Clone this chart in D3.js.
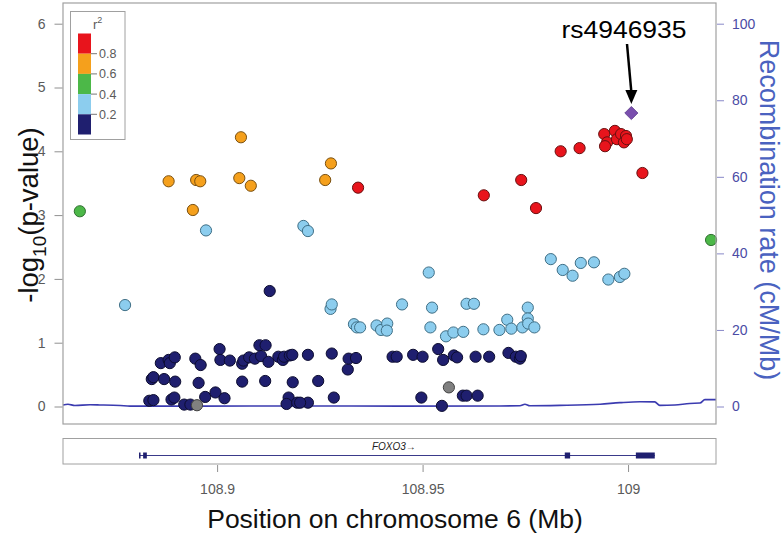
<!DOCTYPE html>
<html><head><meta charset="utf-8">
<script src="https://cdn.jsdelivr.net/npm/d3@7"></script>
<style>body{margin:0;background:#fff}svg{display:block;font-family:"Liberation Sans",Arial,sans-serif}</style>
</head><body><svg id="c" width="784" height="538"></svg>
<script>
// ---- data ----
const r2Breaks = [0.2, 0.4, 0.6, 0.8];
const r2Colors = ["#1f1f6f", "#8ccdee", "#4cb848", "#f5a01c", "#e8141c"];
const xTicks = [108.9, 108.95, 109];
const yTicks = [0, 1, 2, 3, 4, 5, 6];
const recTicks = [0, 20, 40, 60, 80, 100];
// [position (Mb), -log10 p]
const navyPts = [[108.8835,0.09],[108.8845,0.10],[108.8841,0.43],[108.8845,0.46],[108.8863,0.68],[108.8871,0.43],[108.8882,0.73],[108.8885,0.68],[108.8897,0.77],[108.8889,0.11],[108.8896,0.14],[108.8898,0.39],[108.8920,0.03],[108.8935,0.03],[108.8947,0.75],[108.8960,0.65],[108.8955,0.37],[108.8971,0.15],[108.8996,0.22],[108.9018,0.13],[108.9006,0.90],[108.9008,0.73],[108.9031,0.72],[108.9061,0.67],[108.9064,0.72],[108.9061,0.39],[108.9078,0.77],[108.9092,0.75],[108.9103,0.96],[108.9118,0.96],[108.9107,0.79],[108.9125,0.70],[108.9117,0.40],[108.9149,0.78],[108.9160,0.73],[108.9163,0.78],[108.9177,0.80],[108.9183,0.81],[108.9184,0.38],[108.9174,0.14],[108.9169,0.04],[108.9195,0.06],[108.9221,0.81],[108.9221,0.06],[108.9202,0.06],[108.9246,0.40],[108.9279,0.83],[108.9284,0.14],[108.9318,0.58],[108.9320,0.75],[108.9338,0.76],[108.9427,0.78],[108.9437,0.78],[108.9477,0.81],[108.9500,0.78],[108.9497,0.14],[108.9538,0.90],[108.9550,0.73],[108.9547,0.01],[108.9576,0.80],[108.9584,0.77],[108.9598,0.17],[108.9607,0.17],[108.9634,0.17],[108.9629,0.78],[108.9662,0.78],[108.9709,0.84],[108.9727,0.78],[108.9737,0.75],[108.9739,0.79],[108.9128,1.81]];
const greyPts = [[108.8951,0.02],[108.9564,0.30]];
const lightBluePts = [[108.8776,1.59],[108.8973,2.76],[108.9210,2.83],[108.9221,2.75],[108.9276,1.53],[108.9279,1.60],[108.9333,1.29],[108.9340,1.24],[108.9348,1.24],[108.9388,1.27],[108.9399,1.20],[108.9414,1.30],[108.9413,1.19],[108.9450,1.60],[108.9523,1.55],[108.9519,1.24],[108.9515,2.10],[108.9557,1.10],[108.9575,1.16],[108.9599,1.17],[108.9607,1.61],[108.9625,1.61],[108.9648,1.21],[108.9687,1.20],[108.9706,1.36],[108.9716,1.22],[108.9743,1.24],[108.9756,1.55],[108.9756,1.38],[108.9757,1.30],[108.9772,1.24],[108.9812,2.31],[108.9841,2.14],[108.9865,2.05],[108.9885,2.25],[108.9917,2.26],[108.9952,1.99],[108.9980,2.03],[108.9991,2.08]];
const greenPts = [[108.8666,3.06],[109.0202,2.61]];
const orangePts = [[108.9058,4.22],[108.9277,3.81],[108.8882,3.53],[108.8949,3.55],[108.8959,3.53],[108.9054,3.58],[108.9082,3.46],[108.9263,3.55],[108.8941,3.08]];
const redPts = [[108.9343,3.43],[108.9649,3.31],[108.9740,3.55],[108.9776,3.11],[108.9836,4.00],[108.9882,4.05],[109.0035,3.66],[108.9942,4.27],[108.9949,4.14],[108.9944,4.08],[108.9968,4.32],[108.9973,4.19],[108.9983,4.27],[108.9990,4.14],[108.9995,4.24],[108.9997,4.19]];
const leadSnp = {name: "rs4946935", pos: 109.0008, p: 4.60};
// recombination rate [position, cM/Mb]
const recomb = [[108.8625,0.4],[108.8637,0.6],[108.8654,0.25],[108.8691,0.45],[108.8715,0.4],[108.8764,0.25],[108.8788,0.1],[108.8958,0.1],[108.9202,0.15],[108.9445,0.1],[108.9688,0.15],[108.9737,0.2],[108.9749,0.6],[108.9761,0.2],[108.9834,0.3],[108.9932,0.6],[108.9980,1.0],[109.0029,1.25],[109.0065,1.2],[109.0077,0.3],[109.0114,0.4],[109.0150,0.8],[109.0175,0.9],[109.0187,1.8],[109.0214,1.8]];
const gene = {name: "FOXO3", start: 108.8810, end: 109.0065};
const exons = [[108.8810,108.8812],[108.8820,108.8829],[108.9846,108.9859],[109.0019,109.0065]];

// ---- layout ----
const svg = d3.select("#c");
const L = 63, R = 716, T = 3, B = 424;
const x = d3.scaleLinear().domain([108.8625, 109.0214]).range([L, R]);
const y = d3.scaleLinear().domain([0, 6]).range([406.5, 23.7]);
const yr = d3.scaleLinear().domain([0, 100]).range([406.5, 23.7]);
const grey = "#5a5a5a";

svg.append("rect").attr("width",784).attr("height",538).attr("fill","#fff");

// recombination line
svg.append("path").datum(recomb)
  .attr("d", d3.line().x(d=>x(d[0])).y(d=>yr(d[1])).curve(d3.curveMonotoneX))
  .attr("fill","none").attr("stroke","#3b3bb0").attr("stroke-width",1.6);

// points
const groups = [
  {pts: navyPts, fill: r2Colors[0], stroke: "#0c0c30"},
  {pts: greyPts, fill: "#808080", stroke: "#404040"},
  {pts: lightBluePts, fill: r2Colors[1], stroke: "#3f6f86"},
  {pts: greenPts, fill: r2Colors[2], stroke: "#2f7030"},
  {pts: orangePts, fill: r2Colors[3], stroke: "#7a5010"},
  {pts: redPts, fill: r2Colors[4], stroke: "#6a1010"}
];
groups.forEach(g => {
  svg.append("g").selectAll("circle").data(g.pts).join("circle")
    .attr("cx", d=>x(d[0])).attr("cy", d=>y(d[1])).attr("r", 5.6)
    .attr("fill", g.fill).attr("stroke", g.stroke).attr("stroke-width", 1);
});
// lead SNP diamond
svg.append("path")
  .attr("d", d3.symbol(d3.symbolDiamond2, 110)())
  .attr("transform", `translate(${x(leadSnp.pos)},${y(leadSnp.p)})`)
  .attr("fill", "#7a4fae").attr("stroke","#5a3a8a").attr("stroke-width",0.8);

// panel frame
svg.append("rect").attr("x",L).attr("y",T).attr("width",R-L).attr("height",B-T)
  .attr("fill","none").attr("stroke","#a0a0a0").attr("stroke-width",1.2);

// left axis
const ya = svg.append("g").attr("transform",`translate(${L-0.5},0)`)
  .call(d3.axisLeft(y).tickValues(yTicks).tickSize(8).tickPadding(9).tickFormat(d3.format("d")));
ya.select(".domain").remove();
ya.selectAll("line").attr("stroke","#909090");
ya.selectAll("text").attr("fill",grey).style("font-size","14px").style("font-family","Liberation Sans, Arial");

// right axis
const ra = svg.append("g").attr("transform",`translate(${R+1},0)`)
  .call(d3.axisRight(yr).tickValues(recTicks).tickSize(7).tickPadding(8));
ra.select(".domain").remove();
ra.selectAll("line").attr("stroke","#8888c8");
ra.selectAll("text").attr("fill","#4b4ba5").style("font-size","14px").style("font-family","Liberation Sans, Arial");

// left title
const lt = svg.append("text").attr("transform","translate(38,215) rotate(-90)")
  .attr("text-anchor","middle").attr("fill","#111").style("font-size","27.5px");
lt.append("tspan").text("-log");
lt.append("tspan").text("10").style("font-size","19px").attr("dy",8);
lt.append("tspan").text("(p-value)").attr("dy",-8);

// right title
svg.append("text").attr("transform","translate(760,210) rotate(90)")
  .attr("text-anchor","middle").attr("fill","#4a62c0").style("font-size","27px")
  .text("Recombination rate (cM/Mb)");

// legend
const lg = svg.append("g");
lg.append("rect").attr("x",70.5).attr("y",11.5).attr("width",54.5).attr("height",128)
  .attr("fill","#fff").attr("stroke","#a0a0a0");
const segH = 20.2, barTop = 33.5;
const legendColors = r2Colors.slice().reverse();
lg.selectAll("rect.seg").data(legendColors).join("rect").attr("class","seg")
  .attr("x",78).attr("y",(d,i)=>barTop+i*segH).attr("width",13).attr("height",segH)
  .attr("fill",d=>d);
const lbl = r2Breaks.slice().reverse();
lg.selectAll("line.t").data(lbl).join("line").attr("class","t")
  .attr("x1",91).attr("x2",97).attr("y1",(d,i)=>barTop+(i+1)*segH).attr("y2",(d,i)=>barTop+(i+1)*segH)
  .attr("stroke","#777");
lg.selectAll("text.t").data(lbl).join("text").attr("class","t")
  .attr("x",99).attr("y",(d,i)=>barTop+(i+1)*segH+4.5).attr("fill",grey).style("font-size","12.5px")
  .text(d=>d3.format(".1f")(d));
const rt = lg.append("text").attr("x",93).attr("y",29).attr("fill",grey).style("font-size","13px");
rt.append("tspan").text("r");
rt.append("tspan").text("2").style("font-size","9px").attr("dy",-6);

// annotation
const ax = x(leadSnp.pos);
svg.append("text").attr("x",624).attr("y",38).attr("text-anchor","middle").attr("fill","#000")
  .style("font-size","23px").attr("textLength",125).attr("lengthAdjust","spacingAndGlyphs").text(leadSnp.name);
svg.append("line").attr("x1",627).attr("y1",44).attr("x2",ax).attr("y2",92)
  .attr("stroke","#000").attr("stroke-width",2.5);
svg.append("path").attr("d",`M${ax-6},90 L${ax+6},90 L${ax},104 Z`).attr("fill","#000");

// gene track
const GT = 438.5, GB = 464;
svg.append("rect").attr("x",L).attr("y",GT).attr("width",R-L).attr("height",GB-GT)
  .attr("fill","#fff").attr("stroke","#a0a0a0");
const gy = 455.5;
svg.append("line").attr("x1",x(gene.start)).attr("x2",x(gene.end)).attr("y1",gy).attr("y2",gy)
  .attr("stroke","#3a3a8a").attr("stroke-width",1.2);
svg.selectAll("rect.exon").data(exons).join("rect").attr("class","exon")
  .attr("x",d=>x(d[0])).attr("width",d=>Math.max(1.5,x(d[1])-x(d[0])))
  .attr("y",gy-3).attr("height",6).attr("fill","#1f1f6f");
svg.append("text").attr("x",x((gene.start+gene.end)/2)-3).attr("y",450).attr("text-anchor","middle")
  .style("font-size","10px").style("font-style","italic").attr("fill","#222").text(gene.name+"\u2192");

// x axis
const xa = svg.append("g").attr("transform",`translate(0,${GB+1})`)
  .call(d3.axisBottom(x).tickValues(xTicks).tickSize(7).tickPadding(12).tickFormat(d=>String(d)));
xa.select(".domain").remove();
xa.selectAll("line").attr("stroke","#909090");
xa.selectAll("text").attr("fill",grey).style("font-size","14px").style("font-family","Liberation Sans, Arial");

svg.append("text").attr("x",395).attr("y",528).attr("text-anchor","middle").attr("fill","#111")
  .style("font-size","26.5px").text("Position on chromosome 6 (Mb)");
</script></body></html>
